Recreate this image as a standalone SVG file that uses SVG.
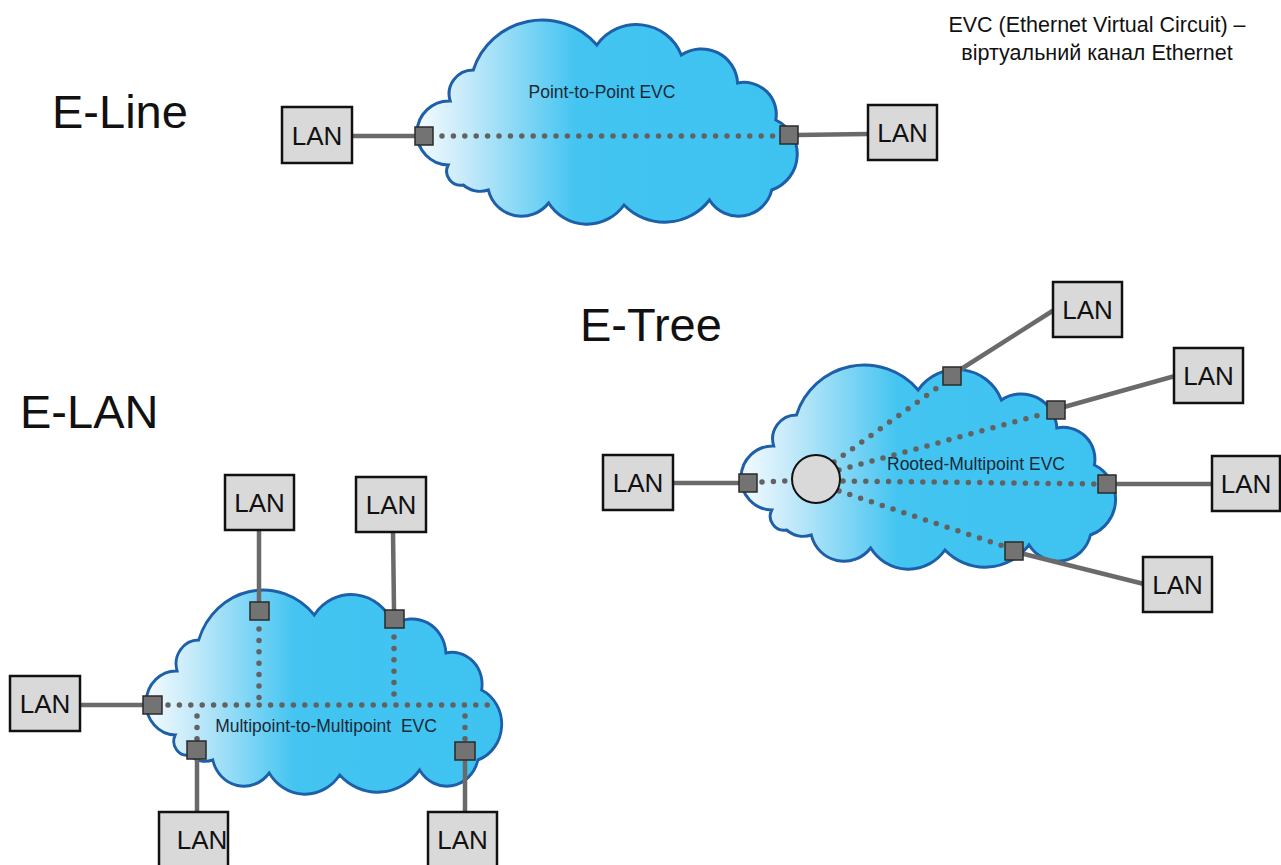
<svg xmlns="http://www.w3.org/2000/svg" width="1281" height="865" viewBox="0 0 1281 865">
<defs>
<linearGradient id="cg" x1="0" y1="0" x2="1" y2="0">
<stop offset="0" stop-color="#f4fbfe"/>
<stop offset="0.12" stop-color="#c9ebfa"/>
<stop offset="0.42" stop-color="#43c4f1"/>
<stop offset="1" stop-color="#3ec3f1"/>
</linearGradient>
<path id="cloud" d="M30,150 A32,32 0 0 1 32,86 A24,24 0 0 1 55,55 A72,72 0 0 1 178,30 A48,48 0 0 1 262,40 A36,36 0 0 1 318,68 A32,32 0 0 1 356,105 A38,38 0 0 1 352,175 A34,34 0 0 1 290,185 A56,56 0 0 1 205,190 A45,45 0 0 1 130,188 A34,34 0 0 1 70,175 A26,26 0 0 1 45,170 A14,14 0 0 1 30,150 Z"/>
</defs>
<style>
.cloud{fill:url(#cg);stroke:#1d5fa8;stroke-width:3}
.lan rect{fill:#d9d9d9;stroke:#111;stroke-width:2.5}
.lan text{font-family:"Liberation Sans",Arial,sans-serif;font-size:26px;fill:#111;text-anchor:middle}
.port{fill:#737373;stroke:#2a2a2a;stroke-width:1.5}
.link{stroke:#6a6a6a;stroke-width:4.5;fill:none}
.dot{stroke:#626262;stroke-width:5.5;fill:none;stroke-linecap:round;stroke-dasharray:0 11.4}
.title{font-family:"Liberation Sans",Arial,sans-serif;font-size:47px;fill:#111}
.clabel{font-family:"Liberation Sans",Arial,sans-serif;font-size:17.5px;fill:#1b2a36;text-anchor:middle;white-space:pre}
.note{font-family:"Liberation Sans",Arial,sans-serif;font-size:21.5px;fill:#111;text-anchor:middle}
</style>
<rect width="1281" height="865" fill="#fff"/>

<g id="titles">
<text class="title" x="52" y="128">E-Line</text>
<text class="title" x="580" y="341">E-Tree</text>
<text class="title" x="20" y="428">E-LAN</text>
<text class="note" x="1097" y="32">EVC (Ethernet Virtual Circuit) –</text>
<text class="note" x="1097" y="60">віртуальний канал Ethernet</text>
</g>

<!-- clouds -->
<g id="cloud-eline"><use href="#cloud" class="cloud" transform="translate(418,15) scale(1.005,1)"/><text class="clabel" x="602" y="98">Point-to-Point EVC</text></g>
<g id="cloud-etree"><use href="#cloud" class="cloud" transform="translate(742,360) scale(0.99,1)"/><text class="clabel" x="976" y="470">Rooted-Multipoint EVC</text></g>
<g id="cloud-elan"><use href="#cloud" class="cloud" transform="translate(147,585) scale(0.94,1)"/><text class="clabel" x="326" y="732" xml:space="preserve">Multipoint-to-Multipoint  EVC</text></g>

<g id="connectors">
<!-- E-Line -->
<line class="link" x1="352" y1="136" x2="416" y2="136"/>
<line class="link" x1="797" y1="135" x2="868" y2="134"/>
<line class="dot" x1="442" y1="136" x2="780" y2="136"/>
<!-- E-Tree -->
<line class="link" x1="673" y1="483" x2="740" y2="483"/>
<line class="link" x1="958" y1="371" x2="1054" y2="310"/>
<line class="link" x1="1064" y1="407" x2="1175" y2="376"/>
<line class="link" x1="1115" y1="484" x2="1212" y2="484"/>
<line class="link" x1="1020" y1="553" x2="1144" y2="584"/>
<line class="dot" x1="762" y1="482" x2="785" y2="481"/>
<line class="dot" x1="834" y1="462" x2="944" y2="383"/>
<line class="dot" x1="839" y1="470" x2="1047" y2="413"/>
<line class="dot" x1="843" y1="481" x2="1098" y2="484"/>
<line class="dot" x1="839" y1="491" x2="1006" y2="547"/>
<!-- E-LAN -->
<line class="link" x1="80" y1="705" x2="143" y2="705"/>
<line class="link" x1="259" y1="530" x2="259" y2="602"/>
<line class="link" x1="393" y1="532" x2="394" y2="610"/>
<line class="link" x1="197" y1="759" x2="197" y2="812"/>
<line class="link" x1="465" y1="760" x2="465" y2="812"/>
<line class="dot" x1="168" y1="705" x2="496" y2="705"/>
<line class="dot" x1="259" y1="629" x2="259" y2="705"/>
<line class="dot" x1="394" y1="637" x2="394" y2="705"/>
<line class="dot" x1="197" y1="716" x2="197" y2="740"/>
<line class="dot" x1="465" y1="716" x2="465" y2="742"/>
</g>

<g id="ports">
<rect class="port" x="415" y="127" width="18" height="18"/>
<rect class="port" x="780" y="126" width="18" height="18"/>
<rect class="port" x="739" y="474" width="18" height="18"/>
<rect class="port" x="943" y="367" width="18" height="18"/>
<rect class="port" x="1047" y="401" width="18" height="18"/>
<rect class="port" x="1098" y="475" width="18" height="18"/>
<rect class="port" x="1005" y="542" width="18" height="18"/>
<rect class="port" x="143" y="696" width="19" height="18"/>
<rect class="port" x="250" y="602" width="19" height="18"/>
<rect class="port" x="385" y="610" width="19" height="18"/>
<rect class="port" x="187" y="741" width="19" height="18"/>
<rect class="port" x="455" y="742" width="20" height="18"/>
</g>

<g id="root"><ellipse cx="816" cy="479" rx="24" ry="24" fill="#d9d9d9" stroke="#111" stroke-width="2"/></g>

<g id="lan-eline-left" class="lan"><rect x="282" y="107" width="70" height="56"/><text x="317" y="145">LAN</text></g>
<g id="lan-eline-right" class="lan"><rect x="868" y="105" width="69" height="55"/><text x="902.5" y="142">LAN</text></g>
<g id="lan-etree-left" class="lan"><rect x="603" y="455" width="70" height="55"/><text x="638" y="492">LAN</text></g>
<g id="lan-etree-1" class="lan"><rect x="1053" y="282" width="69" height="55"/><text x="1087.5" y="319">LAN</text></g>
<g id="lan-etree-2" class="lan"><rect x="1174" y="348" width="69" height="55"/><text x="1208.5" y="385">LAN</text></g>
<g id="lan-etree-3" class="lan"><rect x="1212" y="456" width="68" height="55"/><text x="1246" y="493">LAN</text></g>
<g id="lan-etree-4" class="lan"><rect x="1143" y="557" width="69" height="55"/><text x="1177.5" y="594">LAN</text></g>
<g id="lan-elan-left" class="lan"><rect x="10" y="676" width="70" height="55"/><text x="45" y="713">LAN</text></g>
<g id="lan-elan-top1" class="lan"><rect x="225" y="475" width="69" height="55"/><text x="259.5" y="512">LAN</text></g>
<g id="lan-elan-top2" class="lan"><rect x="356" y="477" width="70" height="55"/><text x="391" y="514">LAN</text></g>
<g id="lan-elan-bot1" class="lan"><rect x="159" y="812" width="69" height="60"/><text x="202" y="849">LAN</text></g>
<g id="lan-elan-bot2" class="lan"><rect x="428" y="812" width="69" height="60"/><text x="462.5" y="849">LAN</text></g>
</svg>
